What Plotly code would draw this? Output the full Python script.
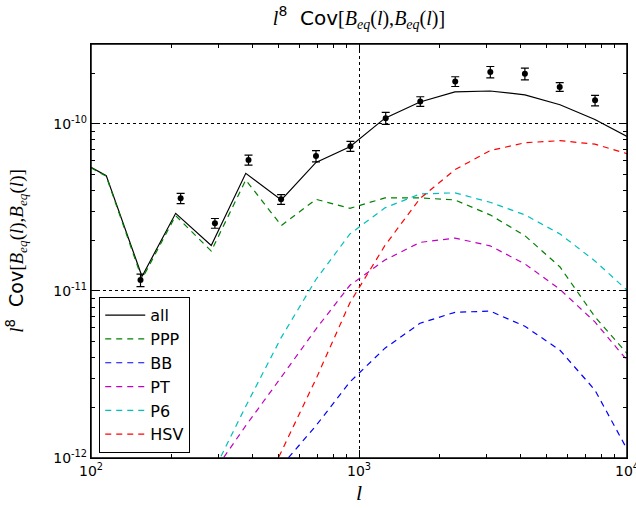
import plotly.graph_objects as go
import math

# ---- data ----
ell = [100, 114, 155, 207, 281, 378, 513, 691, 925, 1250, 1689, 2280, 3083, 4159, 5623, 7591, 10000]
all_v = [5.48e-11, 4.89e-11, 1.22e-11, 2.91e-11, 1.87e-11, 5.05e-11, 3.50e-11, 5.87e-11, 7.29e-11,
         1.08e-10, 1.35e-10, 1.55e-10, 1.57e-10, 1.49e-10, 1.30e-10, 1.06e-10, 8.40e-11]
ppp_v = [5.45e-11, 4.85e-11, 1.18e-11, 2.82e-11, 1.73e-11, 4.61e-11, 2.46e-11, 3.53e-11, 3.12e-11,
         3.60e-11, 3.60e-11, 3.50e-11, 2.85e-11, 2.14e-11, 1.39e-11, 7.0e-12, 4.22e-12]
ell_p6 = ell[4:]
p6_v = [7.8e-13, 2.04e-12, 5.27e-12, 1.17e-11, 2.19e-11, 3.14e-11, 3.80e-11, 3.86e-11, 3.39e-11,
        2.85e-11, 2.19e-11, 1.51e-11, 1.01e-11]
ell_pt = ell[4:]
pt_v = [7.87e-13, 1.56e-12, 3.05e-12, 5.91e-12, 1.08e-11, 1.53e-11, 1.95e-11, 2.07e-11, 1.86e-11,
        1.45e-11, 1.02e-11, 6.52e-12, 3.85e-12]
ell_hsv = ell[5:]
hsv_v = [3.9e-13, 1.09e-12, 2.97e-12, 8.5e-12, 1.87e-11, 3.57e-11, 5.31e-11, 6.90e-11, 7.70e-11,
         7.92e-11, 7.55e-11, 6.62e-11]
ell_bb = ell[6:]
bb_v = [8.96e-13, 1.56e-12, 2.85e-12, 4.54e-12, 6.40e-12, 7.44e-12, 7.57e-12, 6.14e-12, 4.41e-12,
        2.55e-12, 1.13e-12]

data_l = [153, 216, 290, 387, 512, 691, 929, 1258, 1693, 2286, 3090, 4159, 5610, 7600]
data_v = [1.16e-11, 3.58e-11, 2.54e-11, 6.07e-11, 3.53e-11, 6.41e-11, 7.34e-11, 1.08e-10, 1.36e-10,
          1.79e-10, 2.04e-10, 1.99e-10, 1.66e-10, 1.38e-10]
data_e = [0.10e-11, 0.25e-11, 0.17e-11, 0.42e-11, 0.24e-11, 0.5e-11, 0.5e-11, 0.9e-11, 0.9e-11,
          1.2e-11, 1.6e-11, 1.6e-11, 1.0e-11, 1.0e-11]

x_ticks = [100, 1000, 10000]
x_ticktext = ["10<sup>2</sup>", "10<sup>3</sup>", "10<sup>4</sup>"]
y_ticks = [1e-12, 1e-11, 1e-10]
y_ticktext = ["10<sup>-12</sup>", "10<sup>-11</sup>", "10<sup>-10</sup>"]
x_minor = [m * d for d in (100, 1000) for m in range(2, 10)]
y_minor = [m * d for d in (1e-12, 1e-11) for m in range(2, 10)] + [2e-10, 3e-10]

SERIF = "Liberation Serif"
def sp(s, italic=True):
    t = f"<i>{s}</i>" if italic else s
    return f"<span style=\"font-family:'{SERIF}'\">{t}</span>"

label = (sp("l") + "<sup>8</sup>  Cov" + sp("[", False)
         + sp("B") + f"<sub>{sp('eq')}</sub>" + sp("(", False) + sp("l") + sp("),", False)
         + sp("B") + f"<sub>{sp('eq')}</sub>" + sp("(", False) + sp("l") + sp(")]", False))

fig = go.Figure()
dash = "6px,5px"
fig.add_trace(go.Scatter(x=ell, y=all_v, mode="lines", name="all",
                         line=dict(color="black", width=1.2)))
fig.add_trace(go.Scatter(x=ell, y=ppp_v, mode="lines", name="PPP",
                         line=dict(color="#008000", width=1.2, dash=dash)))
fig.add_trace(go.Scatter(x=ell_bb, y=bb_v, mode="lines", name="BB",
                         line=dict(color="#0000ff", width=1.2, dash=dash)))
fig.add_trace(go.Scatter(x=ell_pt, y=pt_v, mode="lines", name="PT",
                         line=dict(color="#bf00bf", width=1.2, dash=dash)))
fig.add_trace(go.Scatter(x=ell_p6, y=p6_v, mode="lines", name="P6",
                         line=dict(color="#00bfbf", width=1.2, dash=dash)))
fig.add_trace(go.Scatter(x=ell_hsv, y=hsv_v, mode="lines", name="HSV",
                         line=dict(color="#ff0000", width=1.2, dash=dash)))
fig.add_trace(go.Scatter(x=data_l, y=data_v, mode="markers", showlegend=False,
                         marker=dict(color="black", size=6),
                         error_y=dict(type="data", array=data_e, color="black", thickness=1.2, width=4)))

XR = [2, 4]
YR = [-12, math.log10(3e-10)]

base = dict(type="log", showline=True, linecolor="black", linewidth=1.2,
            ticks="inside", ticklen=8, tickcolor="black", tickwidth=1, mirror="allticks",
            showgrid=True, gridcolor="black", griddash="dot", gridwidth=1,
            zeroline=False, automargin=False,
            tickfont=dict(family="DejaVu Sans", size=14, color="black"))

fig.update_layout(
    xaxis=dict(range=XR, tickvals=x_ticks, ticktext=x_ticktext, ticklabeloverflow="allow",
               minor=dict(tickvals=x_minor, ticks="inside", ticklen=4, tickcolor="black",
                          tickwidth=1, showgrid=False),
               title=dict(text=sp("l"), font=dict(size=22, color="black"), standoff=6),
               **base),
    yaxis=dict(range=YR, tickvals=y_ticks, ticktext=y_ticktext,
               minor=dict(tickvals=y_minor, ticks="inside", ticklen=4, tickcolor="black",
                          tickwidth=1, showgrid=False),
               title=dict(text=label, font=dict(family="DejaVu Sans", size=19, color="black"), standoff=24),
               **base),
    shapes=[dict(type="rect", xref="x domain", yref="y domain", x0=0, x1=1, y0=0, y1=1,
                 line=dict(color="black", width=1.5), layer="above")],
    width=636, height=508,
    margin=dict(l=91, r=9, t=44, b=50),
    paper_bgcolor="white", plot_bgcolor="white",
    title=dict(text=label, x=0.5, xref="paper", y=0.965, yanchor="middle",
               font=dict(family="DejaVu Sans", size=20, color="black")),
    legend=dict(x=0.015, y=0.012, xanchor="left", yanchor="bottom",
                bgcolor="white", bordercolor="black", borderwidth=1.2,
                font=dict(family="DejaVu Sans", size=16, color="black"),
                itemwidth=40, tracegroupgap=0),
    showlegend=True,
)

fig.write_html("out.html")
